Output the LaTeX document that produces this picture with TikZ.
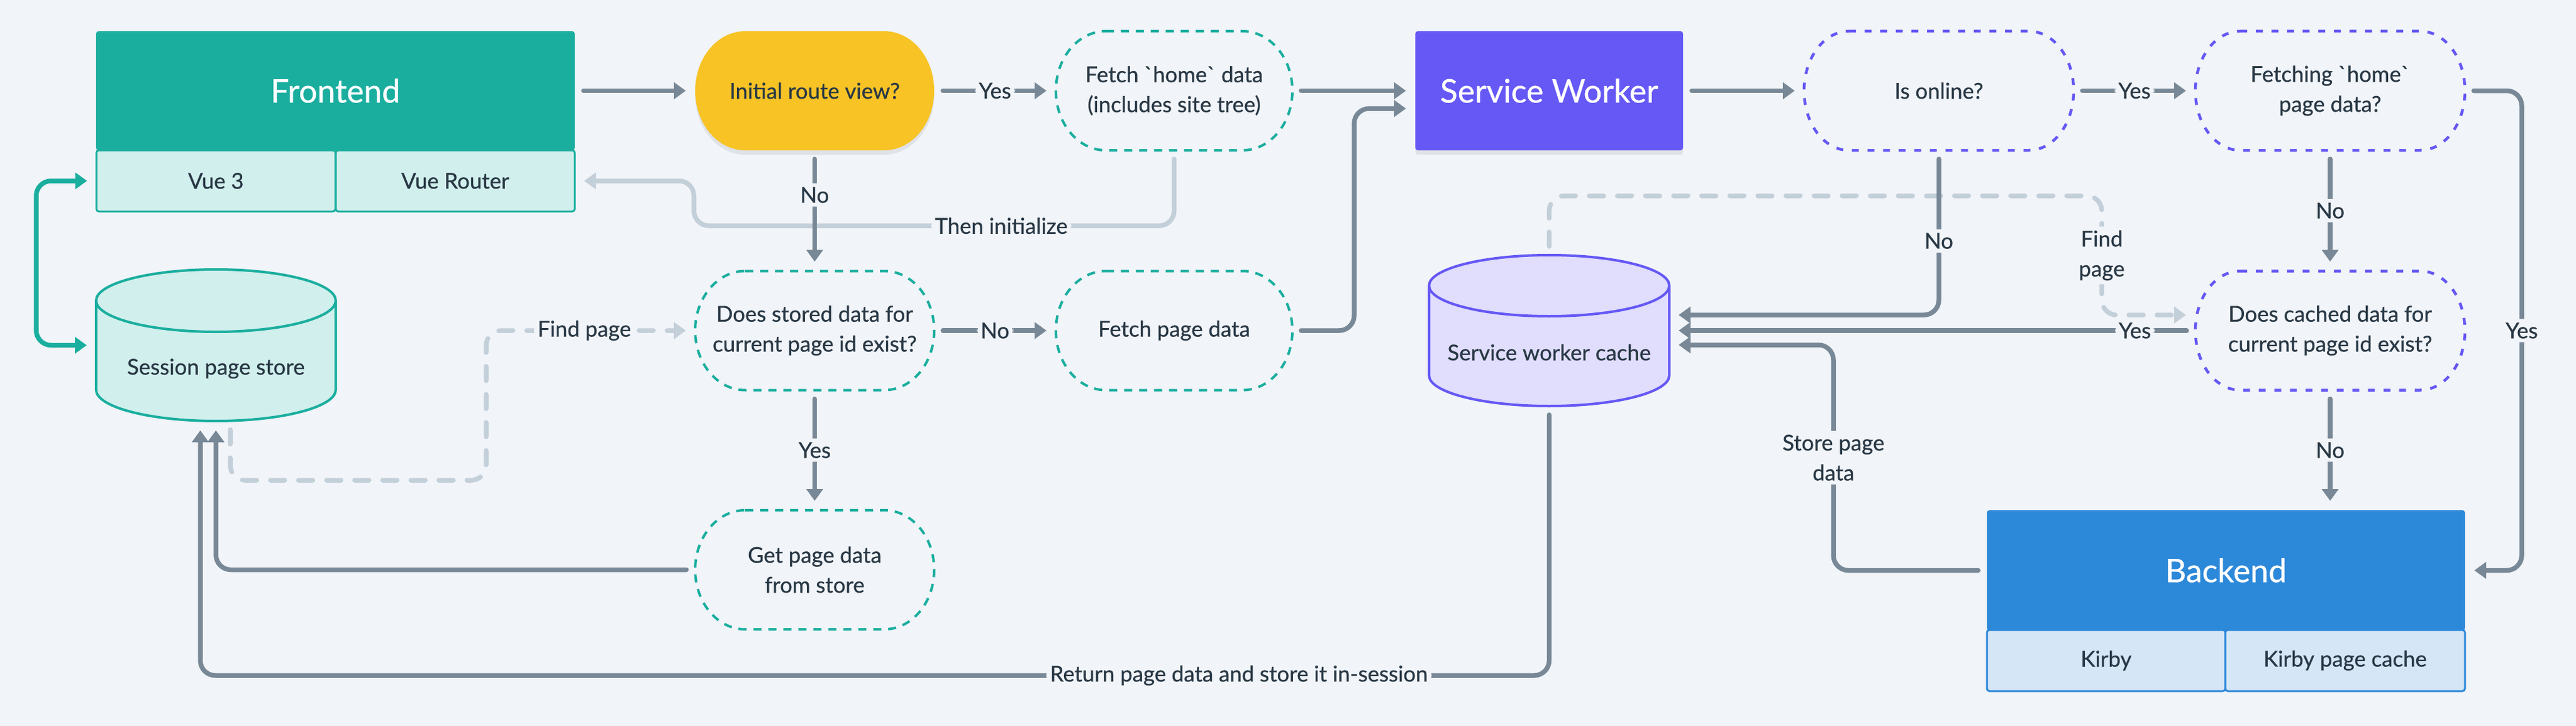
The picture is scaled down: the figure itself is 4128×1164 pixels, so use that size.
\documentclass[tikz,border=0pt]{standalone}
\usepackage{fontspec}
\setmainfont{Lato}[FakeBold=0.6]
\usetikzlibrary{arrows.meta,backgrounds,shadows}
\definecolor{cBg}{HTML}{F1F4F8}
\definecolor{cTeal}{HTML}{1AAE9F}
\definecolor{cTealL}{HTML}{D1EFEC}
\definecolor{cInd}{HTML}{6558F5}
\definecolor{cIndL}{HTML}{E0DDFD}
\definecolor{cBlue}{HTML}{2C88D9}
\definecolor{cBlueL}{HTML}{D5E6F7}
\definecolor{cYel}{HTML}{F7C325}
\definecolor{cSlate}{HTML}{788896}
\definecolor{cSlateL}{HTML}{C3CFD9}
\definecolor{cDark}{HTML}{293845}
\newcommand\fbody{\fontsize{35}{48}\selectfont}
\newcommand\ftitle{\fontsize{52}{60}\selectfont}
% capsule outline around a named node: #1 node, #2 style, #3 rx, #4 0.448*rx
\newcommand\mycapsule[4]{%
  \draw[#2] ([xshift=#3pt]#1.north west) -- ([xshift=-#3pt]#1.north east)
    .. controls ([xshift=-#4pt]#1.north east) and ([yshift=53pt]#1.east) .. (#1.east)
    .. controls ([yshift=-53pt]#1.east) and ([xshift=-#4pt]#1.south east) .. ([xshift=-#3pt]#1.south east)
    -- ([xshift=#3pt]#1.south west)
    .. controls ([xshift=#4pt]#1.south west) and ([yshift=-53pt]#1.west) .. (#1.west)
    .. controls ([yshift=53pt]#1.west) and ([xshift=#4pt]#1.north west) .. cycle;}
% cylinder: #1 x1, #2 x2, #3 y1, #4 y2, #5 ry, #6 style
\newcommand\mycyl[6]{%
  \pgfmathsetmacro\cyrx{(#2-#1)/2}%
  \draw[#6] (#1,#3+#5) -- (#1,#4-#5)
    arc[start angle=180,end angle=0,x radius=\cyrx,y radius=#5]
    -- (#2,#3+#5)
    arc[start angle=0,end angle=-180,x radius=\cyrx,y radius=#5] -- cycle;
  \draw[#6,fill=none] (#1,#3+#5) arc[start angle=180,end angle=0,x radius=\cyrx,y radius=#5];}
\begin{document}
\begin{tikzpicture}[x=1pt,y=-1pt,
  hdr/.style={rectangle,rounded corners=4pt,text=white,font=\ftitle,inner sep=0pt,outer sep=0pt,
    drop shadow={shadow xshift=0pt,shadow yshift=-7pt,opacity=0.07,fill=black}},
  cell/.style={rectangle,rounded corners=4pt,line width=3pt,minimum height=98pt,inner sep=0pt,outer sep=0pt,font=\fbody,text=cDark},
  capn/.style={rectangle,minimum height=191pt,inner sep=0pt,outer sep=0pt,align=center,font=\fbody,text=cDark},
  txt/.style={font=\fbody,text=cDark,inner sep=0pt},
  lbl/.style={fill=cBg,inner sep=6pt,font=\fbody,text=cDark,align=center},
  dT/.style={draw=cTeal,line width=4pt,dash pattern=on 13pt off 11pt},
  dI/.style={draw=cInd,line width=4.5pt,dash pattern=on 11pt off 14pt},
  cylT/.style={fill=cTealL,draw=cTeal,line width=4pt},
  cylI/.style={fill=cIndL,draw=cInd,line width=4pt},
  ar/.style={draw=cSlate,line width=7.5pt,rounded corners=24pt,line cap=round,
    -{Triangle[length=19pt,width=26pt]},shorten >=15pt,shorten <=14pt},
  arL/.style={ar,draw=cSlateL},
  arD/.style={ar,draw=cSlateL,dash pattern=on 23pt off 22pt},
  arT/.style={ar,draw=cTeal,{Triangle[length=19pt,width=26pt]}-{Triangle[length=19pt,width=26pt]},shorten <=15pt}
]
\useasboundingbox (0,0) rectangle (4128,1164);
\begin{scope}[on background layer]
  \fill[cBg] (0,0) rectangle (4128,1164);
\end{scope}

% ---------- nodes ----------
\node[hdr,fill=cTeal,minimum width=767pt,minimum height=191pt] (fe) at (537.5,145.5) {Frontend};
\node[cell,draw=cTeal,fill=cTealL,minimum width=383pt] (vue) at (346,290) {Vue 3};
\node[cell,draw=cTeal,fill=cTealL,minimum width=383pt] (vr) at (729.5,290) {Vue Router};

\node[capn,minimum width=383pt] (irv) at (1305.5,145.5) {Initial route view?};
\node[capn,minimum width=379pt] (fh) at (1881.5,145.5) {Fetch \textasciigrave home\textasciigrave{} data\\(includes site tree)};
\node[hdr,fill=cInd,minimum width=429pt,minimum height=191pt] (sw) at (2482.5,145.5) {Service Worker};
\node[capn,minimum width=432pt] (io) at (3107,145.5) {Is online?};
\node[capn,minimum width=432pt] (fhp) at (3734,145.5) {Fetching \textasciigrave home\textasciigrave\\page data?};

\node[capn,minimum width=383pt] (dsd) at (1305.5,530) {Does stored data for\\current page id exist?};
\node[capn,minimum width=379pt] (fpd) at (1881.5,530) {Fetch page data};
\node[capn,minimum width=432pt] (dcd) at (3734,530) {Does cached data for\\current page id exist?};
\node[capn,minimum width=383pt] (gpd) at (1305.5,913.5) {Get page data\\from store};

\node[hdr,fill=cBlue,minimum width=766pt,minimum height=193pt] (be) at (3567,914.5) {Backend};
\node[cell,draw=cBlue,fill=cBlueL,minimum width=382pt] (kb) at (3375,1059) {Kirby};
\node[cell,draw=cBlue,fill=cBlueL,minimum width=384pt] (kpc) at (3758,1059) {Kirby page cache};

% cylinders (bounding nodes)
\node[minimum width=384pt,minimum height=243pt,inner sep=0pt,outer sep=0pt] (sps) at (346,553.5) {};
\node[minimum width=385pt,minimum height=242pt,inner sep=0pt,outer sep=0pt] (swc) at (2482.5,530) {};
\mycyl{154}{538}{432}{675}{50}{cylT}
\mycyl{2290}{2675}{409}{651}{49}{cylI}
\node[txt] (spst) at (346,591) {Session page store};
\node[txt] (swct) at (2482.5,565) {Service worker cache};

% capsule outlines
\begin{scope}[on background layer]
  \mycapsule{irv}{fill=cYel,draw=none,drop shadow={shadow xshift=0pt,shadow yshift=-7pt,opacity=0.07,fill=black}}{80}{36}
\end{scope}
\mycapsule{fh}{dT}{80}{36}
\mycapsule{dsd}{dT}{80}{36}
\mycapsule{fpd}{dT}{80}{36}
\mycapsule{gpd}{dT}{80}{36}
\mycapsule{io}{dI}{72}{32}
\mycapsule{fhp}{dI}{72}{32}
\mycapsule{dcd}{dI}{72}{32}

% ---------- connectors: light ones first ----------
\draw[arL] (fh.south) -- (1881.5,362) -- node[lbl,pos=0.36]{Then initialize} (1112,362) -- (1112,290) -- (vr.east);
\draw[arD] ([xshift=23pt]sps.south) -- (369,770) -- (779,770) -- (779,530) -- node[lbl,pos=0.47]{Find page} (dsd.west);
\draw[arD] (swc.north) -- (2482.5,314) -- (3368,314) -- node[lbl]{Find\\page} (3368,505) -- ([yshift=25pt]dcd.west);

% ---------- main connectors ----------
\draw[ar] (fe.east) -- (irv.west);
\draw[ar] (irv.east) -- node[lbl]{Yes} (fh.west);
\draw[ar] (fh.east) -- (sw.west);
\draw[ar] (fpd.east) -- ++(99,0) |- ([yshift=-28.5pt]sw.west);
\draw[ar] (irv.south) -- node[lbl,pos=0.37]{No} (dsd.north);
\draw[arT] (vue.west) -- (58,290) -- (58,553.5) -- (sps.west);
\draw[ar] (dsd.east) -- node[lbl]{No} (fpd.west);
\draw[ar] (dsd.south) -- node[lbl]{Yes} (gpd.north);
\draw[ar] (gpd.west) -- (346,913.5) -- (sps.south);
\draw[ar] (swc.south) -- (2482.5,1083) -- node[lbl,pos=0.23]{Return page data and store it in-session} (321,1083) -- ([xshift=-25pt]sps.south);

\draw[ar] (sw.east) -- (io.west);
\draw[ar] (io.east) -- node[lbl]{Yes} (fhp.west);
\draw[ar] (io.south) -- node[lbl,pos=0.55]{No} (3107,505) -- ([yshift=25pt]swc.east);
\draw[ar] (fhp.south) -- node[lbl]{No} (dcd.north);
\draw[ar] (dcd.west) -- node[lbl,pos=0.115]{Yes} (swc.east);
\draw[ar] (fhp.east) -- (4041,145.5) -- node[lbl]{Yes} (4041,914.5) -- (be.east);
\draw[ar] (dcd.south) -- node[lbl]{No} (dcd.south |- be.north);
\draw[ar] (be.west) -- (2938,914.5) -- node[lbl]{Store page\\data} (2938,553) -- ([yshift=-23pt]swc.east);
\end{tikzpicture}
\end{document}
